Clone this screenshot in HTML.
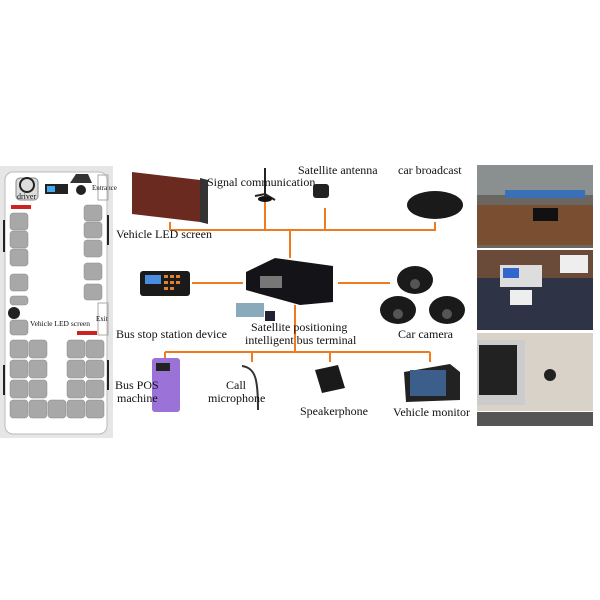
<!DOCTYPE html>
<html><head><meta charset="utf-8"><style>
html,body{margin:0;padding:0;background:#fff;width:600px;height:600px;overflow:hidden}
text{font-family:"Liberation Serif",serif;fill:#111}
</style></head><body>
<svg width="600" height="600" viewBox="0 0 600 600" xmlns="http://www.w3.org/2000/svg">
<rect width="600" height="600" fill="#fff"/>
<!-- bus panel -->
<rect x="0" y="166" width="113" height="272" fill="#e6e6e6"/>
<rect x="5" y="172" width="102" height="262" rx="8" fill="#fff" stroke="#bbb"/>
<g fill="#a8a8a8" stroke="#888" stroke-width="0.5">
<rect x="10" y="213" width="18" height="17" rx="3"/><rect x="10" y="231" width="18" height="17" rx="3"/><rect x="10" y="249" width="18" height="17" rx="3"/>
<rect x="10" y="274" width="18" height="17" rx="3"/><rect x="10" y="296" width="18" height="9" rx="3"/><rect x="10" y="320" width="18" height="15" rx="3"/>
<rect x="84" y="205" width="18" height="16" rx="3"/><rect x="84" y="222" width="18" height="16" rx="3"/><rect x="84" y="240" width="18" height="17" rx="3"/>
<rect x="84" y="263" width="18" height="17" rx="3"/><rect x="84" y="284" width="18" height="16" rx="3"/>
<rect x="10" y="340" width="18" height="18" rx="3"/><rect x="29" y="340" width="18" height="18" rx="3"/><rect x="67" y="340" width="18" height="18" rx="3"/><rect x="86" y="340" width="18" height="18" rx="3"/>
<rect x="10" y="360" width="18" height="18" rx="3"/><rect x="29" y="360" width="18" height="18" rx="3"/><rect x="67" y="360" width="18" height="18" rx="3"/><rect x="86" y="360" width="18" height="18" rx="3"/>
<rect x="10" y="380" width="18" height="18" rx="3"/><rect x="29" y="380" width="18" height="18" rx="3"/><rect x="67" y="380" width="18" height="18" rx="3"/><rect x="86" y="380" width="18" height="18" rx="3"/>
<rect x="10" y="400" width="18" height="18" rx="3"/><rect x="29" y="400" width="18" height="18" rx="3"/><rect x="48" y="400" width="18" height="18" rx="3"/><rect x="67" y="400" width="18" height="18" rx="3"/><rect x="86" y="400" width="18" height="18" rx="3"/>
</g>
<g fill="#222"><rect x="3" y="220" width="2" height="32"/><rect x="107" y="215" width="2" height="30"/><rect x="3" y="365" width="2" height="30"/><rect x="107" y="360" width="2" height="30"/></g>
<rect x="16" y="178" width="22" height="22" rx="4" fill="#ddd" stroke="#888"/>
<circle cx="27" cy="185" r="7" fill="none" stroke="#222" stroke-width="2"/>
<text x="17" y="199" font-size="8">driver</text>
<rect x="11" y="205" width="20" height="4" fill="#c22"/>
<rect x="45" y="184" width="23" height="10" fill="#222"/><rect x="47" y="186" width="8" height="6" fill="#4ae"/>
<path d="M70 183 L76 174 L88 174 L92 183Z" fill="#333"/>
<circle cx="81" cy="190" r="5" fill="#222"/>
<text x="92" y="190" font-size="7">Entrance</text>
<rect x="98" y="175" width="10" height="25" fill="none" stroke="#aaa"/>
<rect x="98" y="303" width="10" height="32" fill="none" stroke="#aaa"/>
<text x="96" y="321" font-size="7">Exit</text>
<circle cx="14" cy="313" r="6" fill="#222"/>
<text x="30" y="326" font-size="7.5">Vehicle LED screen</text>
<rect x="77" y="331" width="20" height="4" fill="#c22"/>
<!-- photos -->
<rect x="477" y="165" width="116" height="83" fill="#6b6660"/>
<rect x="477" y="165" width="116" height="30" fill="#8a8f90"/>
<rect x="505" y="190" width="80" height="8" fill="#3a70b8"/>
<rect x="477" y="205" width="116" height="40" fill="#7a4e30"/>
<rect x="533" y="208" width="25" height="13" fill="#111"/>
<rect x="477" y="250" width="116" height="80" fill="#2e3446"/>
<rect x="477" y="250" width="116" height="28" fill="#6a4a38"/>
<rect x="500" y="265" width="42" height="22" fill="#ddd"/><rect x="503" y="268" width="16" height="10" fill="#36c"/>
<rect x="510" y="290" width="22" height="15" fill="#eee"/>
<rect x="560" y="255" width="28" height="18" fill="#eee"/>
<rect x="477" y="333" width="116" height="78" fill="#d8d2c8"/>
<rect x="477" y="340" width="48" height="65" fill="#ccc"/><rect x="479" y="345" width="38" height="50" fill="#222"/>
<circle cx="550" cy="375" r="6" fill="#222"/>
<rect x="477" y="412" width="116" height="14" fill="#555"/>
<!-- orange connectors -->
<g stroke="#f07a1e" stroke-width="2" fill="none">
<path d="M170 230 H435 V222"/><path d="M170 230 V222"/>
<path d="M265 230 V200"/><path d="M325 230 V208"/><path d="M290 230 V258"/>
<path d="M192 283 H243"/><path d="M338 283 H390"/>
<path d="M295 305 V352"/>
<path d="M165 352 H430"/><path d="M165 352 V362"/><path d="M252 352 V362"/><path d="M330 352 V362"/><path d="M430 352 V362"/>
</g>
<!-- devices -->
<path d="M132 172 L200 180 L200 222 L132 214Z" fill="#6a2a20"/>
<path d="M200 178 L208 180 L208 224 L200 222Z" fill="#333"/>
<path d="M265 168 V196 M255 196 L265 194 L275 200" stroke="#222" stroke-width="2" fill="none"/>
<ellipse cx="265" cy="199" rx="7" ry="3" fill="#111"/>
<rect x="313" y="184" width="16" height="14" rx="3" fill="#222"/>
<ellipse cx="435" cy="205" rx="28" ry="14" fill="#1a1a1a"/>
<rect x="140" y="271" width="50" height="25" rx="3" fill="#1a1a1a"/>
<rect x="145" y="275" width="16" height="9" fill="#4a8de0"/>
<g fill="#e08030"><rect x="164" y="275" width="4" height="3"/><rect x="170" y="275" width="4" height="3"/><rect x="176" y="275" width="4" height="3"/><rect x="164" y="281" width="4" height="3"/><rect x="170" y="281" width="4" height="3"/><rect x="176" y="281" width="4" height="3"/><rect x="164" y="287" width="4" height="3"/><rect x="170" y="287" width="4" height="3"/></g>
<path d="M246 272 L275 258 L333 266 L333 302 L300 305 L246 290Z" fill="#141418"/>
<rect x="260" y="276" width="22" height="12" fill="#777"/>
<rect x="236" y="303" width="28" height="14" fill="#8ab"/>
<rect x="265" y="311" width="10" height="10" fill="#223"/>
<g fill="#1a1a1a"><ellipse cx="415" cy="280" rx="18" ry="14"/><ellipse cx="398" cy="310" rx="18" ry="14"/><ellipse cx="447" cy="310" rx="18" ry="14"/></g>
<g fill="#555"><circle cx="415" cy="284" r="5"/><circle cx="398" cy="314" r="5"/><circle cx="447" cy="314" r="5"/></g>
<rect x="152" y="358" width="28" height="54" rx="3" fill="#9a72d8"/>
<rect x="156" y="363" width="14" height="8" fill="#222"/>
<path d="M242 366 C256 368 258 380 258 410" stroke="#333" stroke-width="2" fill="none"/>
<path d="M315 370 L338 365 L345 388 L322 393Z" fill="#1a1a1a"/>
<path d="M404 372 L450 364 L460 372 L460 400 L406 402Z" fill="#222"/>
<rect x="410" y="370" width="36" height="26" fill="#3b5f8a"/>
<!-- labels -->
<g font-size="12">
<text x="207" y="186">Signal communication</text>
<text x="298" y="174">Satellite antenna</text>
<text x="398" y="174">car broadcast</text>
<text x="116" y="238">Vehicle LED screen</text>
<text x="116" y="338">Bus stop station device</text>
<text x="251" y="331">Satellite positioning</text>
<text x="245" y="344">intelligent bus terminal</text>
<text x="398" y="338">Car camera</text>
<text x="115" y="389">Bus POS</text>
<text x="117" y="402">machine</text>
<text x="226" y="389">Call</text>
<text x="208" y="402">microphone</text>
<text x="300" y="415">Speakerphone</text>
<text x="393" y="416">Vehicle monitor</text>
</g>
</svg>
</body></html>
